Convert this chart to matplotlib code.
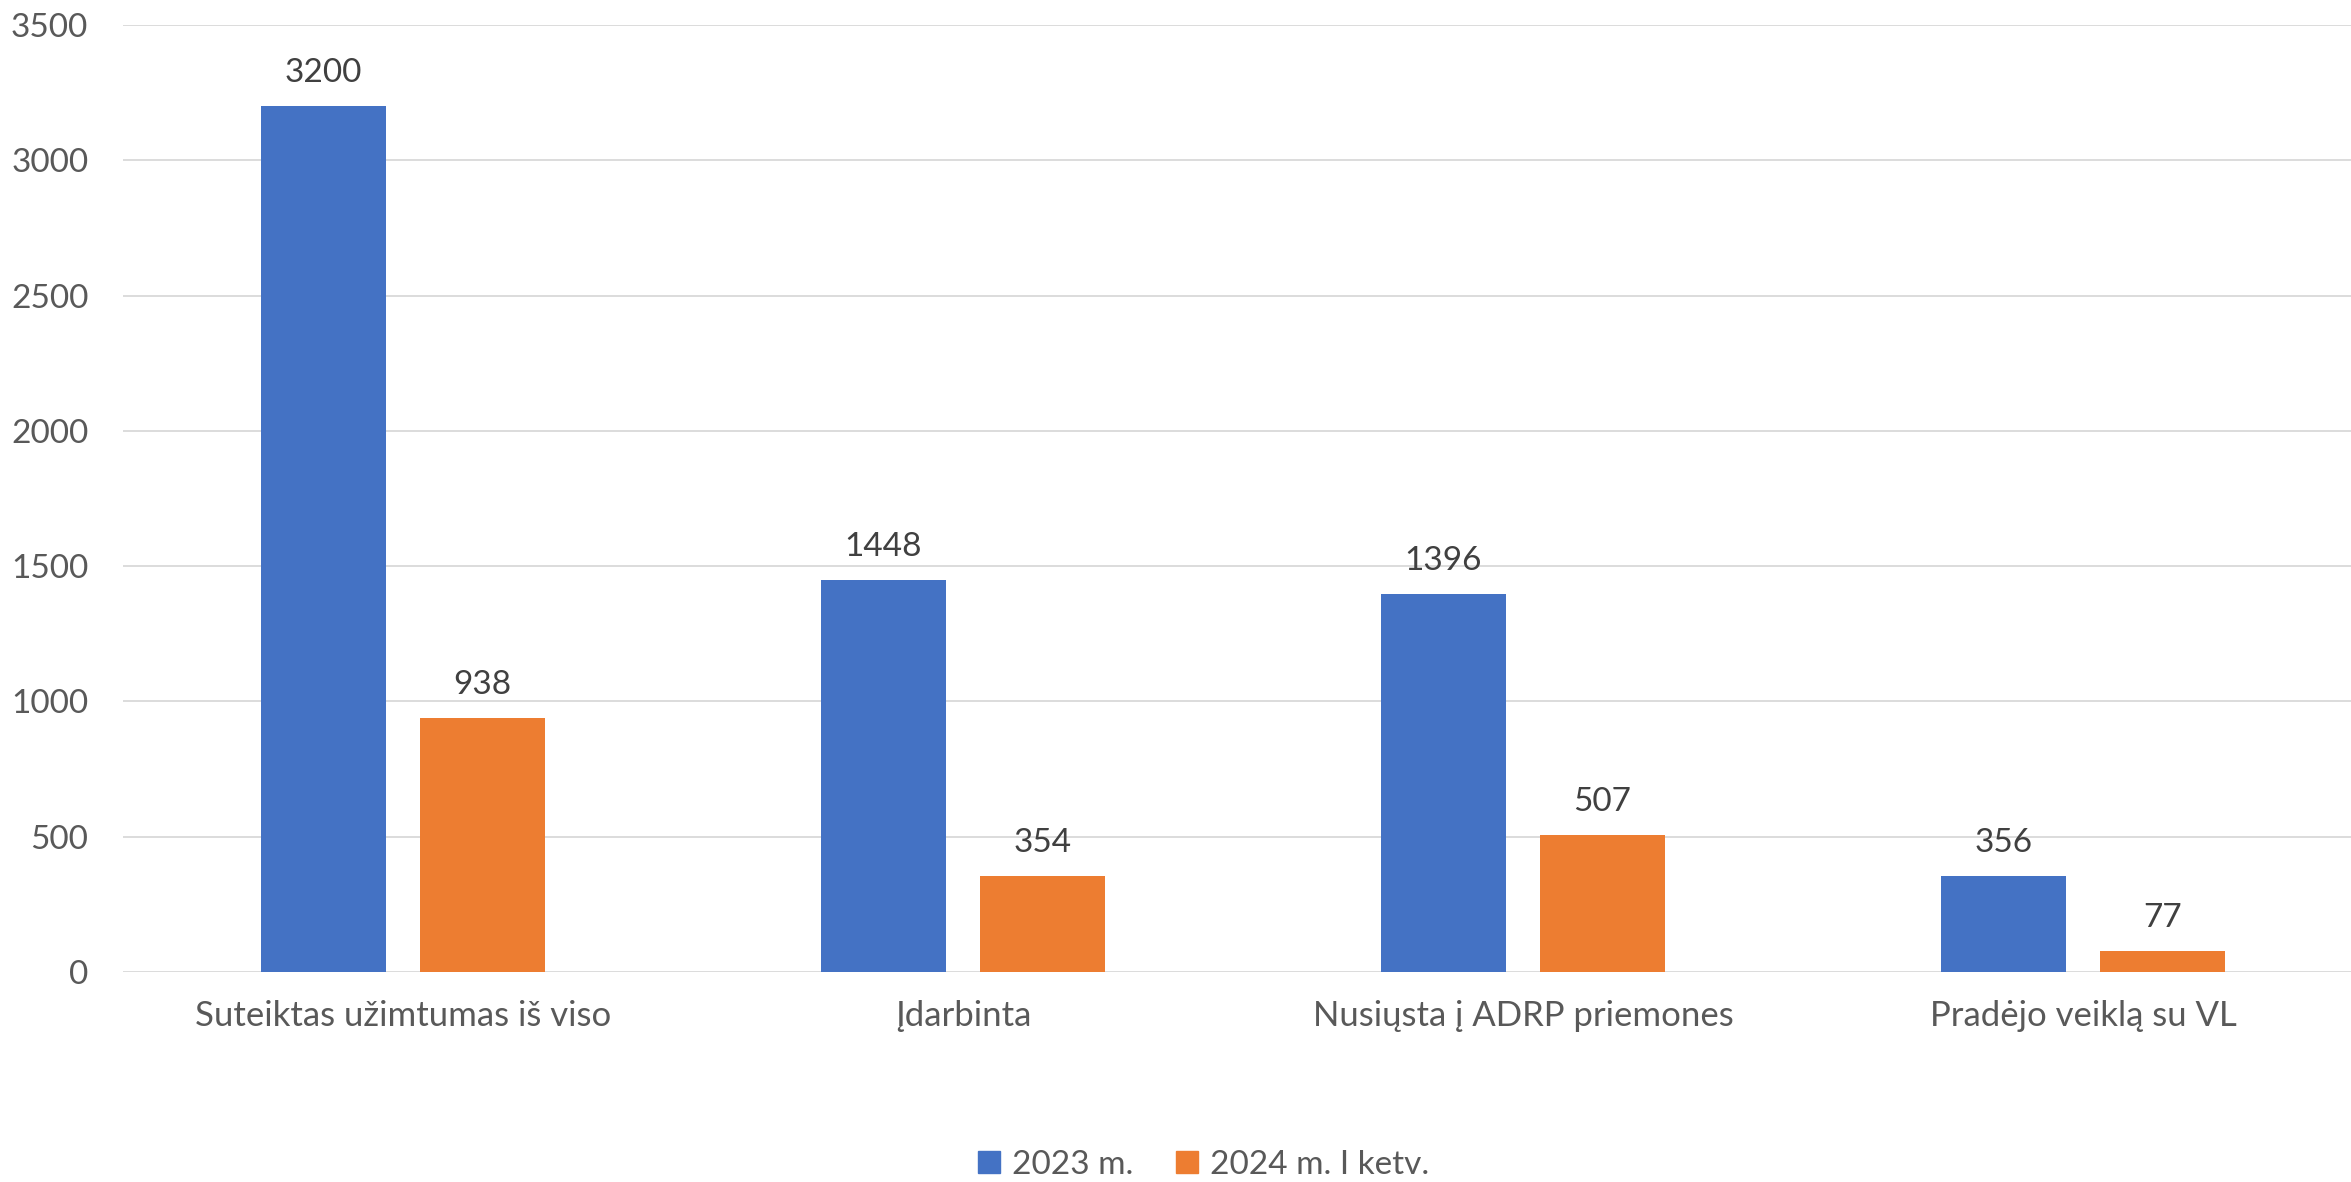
import matplotlib.pyplot as plt
import matplotlib.patches as mpatches
import numpy as np

categories = ["Suteiktas užimtumas iš viso", "Įdarbinta", "Nusiųsta į ADRP priemones", "Pradėjo veiklą su VL"]
values_2023 = [3200, 1448, 1396, 356]
values_2024q1 = [938, 354, 507, 77]
series_names = ["2023 m.", "2024 m. I ketv."]
yticks = [0, 500, 1000, 1500, 2000, 2500, 3000, 3500]

BLUE = "#4472C4"
ORANGE = "#ED7D31"
TXT = "#595959"
LBL = "#404040"

plt.rcParams["font.family"] = ["Lato", "DejaVu Sans"]

W, H = 2351, 1182
fig = plt.figure(figsize=(W / 100, H / 100), dpi=100)
left, right = 123 / W, 1.0
bottom, top = (H - 972) / H, (H - 25) / H
ax = fig.add_axes([left, bottom, right - left, top - bottom])

x = np.arange(len(categories))
bw = 0.223
off = 0.142
b1 = ax.bar(x - off, values_2023, bw, color=BLUE, zorder=3)
b2 = ax.bar(x + off, values_2024q1, bw, color=ORANGE, zorder=3)

for bars in (b1, b2):
    for r in bars:
        ax.annotate(f"{int(r.get_height())}", (r.get_x() + r.get_width() / 2, r.get_height()),
                    xytext=(0, 13), textcoords="offset points", ha="center", va="bottom",
                    fontsize=24, color=LBL)

# plot area runs a bit past the right edge of the image
ax.set_xlim(-0.5, 3.5 - 12 / 560)
ax.set_ylim(0, 3500)
ax.set_yticks(yticks)
ax.set_xticks(x)
ax.set_xticklabels(categories)
ax.tick_params(axis="both", length=0, labelsize=24, colors=TXT)
ax.tick_params(axis="y", pad=25)
ax.tick_params(axis="x", pad=20, labelsize=25)
ax.grid(axis="y", color="#D9D9D9", linewidth=1.3, zorder=0)
for s in ax.spines.values():
    s.set_visible(False)

handles = [mpatches.Patch(color=BLUE, label=series_names[0]),
           mpatches.Patch(color=ORANGE, label=series_names[1])]
fig.legend(handles=handles, loc="center", bbox_to_anchor=(0.512, (H - 1165) / H), ncol=2,
           frameon=False, fontsize=24, labelcolor=TXT, handlelength=0.65, handleheight=0.65,
           handletextpad=0.35, columnspacing=1.3)

fig.savefig("out.png", dpi=100)
